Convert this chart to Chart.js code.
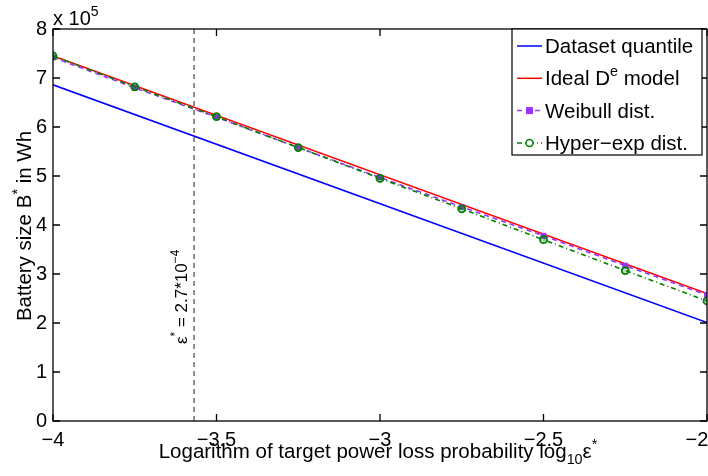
<!DOCTYPE html>
<html>
<head>
<meta charset="utf-8">
<script src="https://cdn.jsdelivr.net/npm/chart.js@4.4.1/dist/chart.umd.min.js"></script>
<style>
  body { margin: 0; background: #fff; }
  canvas { display: block; }
</style>
</head>
<body>
<canvas id="myChart" width="708" height="476"></canvas>
<script>
// battery sizes are in units of 1e5 Wh
const logEps = [-4, -3.75, -3.5, -3.25, -3, -2.75, -2.5, -2.25, -2];
const lineEnds = [-4, -2];
const quantile = [6.86, 2.01];
const idealModel = [7.45, 2.6];
const weibull = [7.42, 6.8, 6.2, 5.58, 4.97, 4.37, 3.78, 3.17, 2.57];
const hyperExp = [7.45, 6.82, 6.21, 5.58, 4.95, 4.33, 3.7, 3.07, 2.45];
const xTicks = [-4, -3.5, -3, -2.5, -2];
const yTicks = [0, 1, 2, 3, 4, 5, 6, 7, 8];
const epsStar = Math.log10(2.7e-4);

const FONT = '"Liberation Sans", Arial, Helvetica, sans-serif';
const SIZE = 20;
const TITLE = 20.5;
const chart = document.getElementById("myChart");

Chart.defaults.font.family = FONT;
Chart.defaults.font.size = SIZE;
Chart.defaults.color = "#000";

// draws text made of parts, some of them super/subscript
function richText(ctx, parts, x, y, size, measureOnly) {
  let cx = x;
  for (const p of parts) {
    let fs = size, dy = 0;
    if (p.sup) { fs = size * 0.7; dy = -size * 0.45; }
    if (p.sub) { fs = size * 0.7; dy = size * 0.3; }
    ctx.font = fs + "px " + FONT;
    if (!measureOnly) ctx.fillText(p.t, cx, y + dy);
    cx += ctx.measureText(p.t).width;
  }
  return cx - x;
}

const legendItems = [
  { text: [{ t: "Dataset quantile" }], color: "#0000ff", dash: [], marker: null },
  { text: [{ t: "Ideal D" }, { t: "e", sup: true }, { t: " model" }], color: "#ff0000", dash: [], marker: null },
  { text: [{ t: "Weibull dist." }], color: "#9933ff", dash: [5, 4], marker: "rect" },
  { text: [{ t: "Hyper\u2212exp dist." }], color: "#008000", dash: [5, 3, 1, 3], marker: "circle" },
];

const decorations = {
  id: "decorations",
  beforeDatasetsDraw(c) {
    const { ctx, chartArea: a, scales: { x } } = c;
    const px = x.getPixelForValue(epsStar);
    ctx.save();
    ctx.strokeStyle = "#222";
    ctx.lineWidth = 1;
    ctx.setLineDash([5, 4]);
    ctx.beginPath();
    ctx.moveTo(px, a.top);
    ctx.lineTo(px, a.bottom);
    ctx.stroke();
    ctx.restore();
  },
  afterDraw(c) {
    const { ctx, chartArea: a, scales: { x, y } } = c;
    ctx.save();
    // box and inward ticks
    ctx.strokeStyle = "#000";
    ctx.lineWidth = 1.3;
    ctx.strokeRect(a.left, a.top, a.right - a.left, a.bottom - a.top);
    ctx.beginPath();
    xTicks.forEach((v) => {
      const px = x.getPixelForValue(v);
      ctx.moveTo(px, a.bottom); ctx.lineTo(px, a.bottom - 7);
      ctx.moveTo(px, a.top); ctx.lineTo(px, a.top + 7);
    });
    yTicks.forEach((v) => {
      const py = y.getPixelForValue(v);
      ctx.moveTo(a.left, py); ctx.lineTo(a.left + 7, py);
      ctx.moveTo(a.right, py); ctx.lineTo(a.right - 7, py);
    });
    ctx.stroke();

    ctx.fillStyle = "#000";
    ctx.textBaseline = "alphabetic";
    ctx.textAlign = "left";

    // exponent above y axis
    richText(ctx, [{ t: "x 10" }, { t: "5", sup: true }], a.left, 25, SIZE);

    // x title
    const xt = [{ t: "Logarithm of target power loss probability log" }, { t: "10", sub: true }, { t: "\u03b5" }, { t: "*", sup: true }];
    const xw = richText(ctx, xt, 0, 0, TITLE, true);
    richText(ctx, xt, 378 - xw / 2, 458, TITLE);

    // y title
    const yt = [{ t: "Battery size B" }, { t: "*", sup: true }, { t: " in Wh" }];
    const yw = richText(ctx, yt, 0, 0, TITLE, true);
    ctx.save();
    ctx.translate(31, 226);
    ctx.rotate(-Math.PI / 2);
    richText(ctx, yt, -yw / 2, 0, TITLE);
    ctx.restore();

    // annotation of the dashed line
    ctx.save();
    ctx.translate(x.getPixelForValue(epsStar) - 7, 344);
    ctx.rotate(-Math.PI / 2);
    richText(ctx, [{ t: "\u03b5" }, { t: "*", sup: true }, { t: " = 2.7*10" }, { t: "\u22124", sup: true }], 0, 0, 17);
    ctx.restore();

    // legend box
    const lx = 512, ly = 29, lw = 190, lh = 126;
    ctx.fillStyle = "#fff";
    ctx.fillRect(lx, ly, lw, lh);
    ctx.strokeStyle = "#000";
    ctx.lineWidth = 1.2;
    ctx.strokeRect(lx, ly, lw, lh);
    legendItems.forEach((it, i) => {
      const ry = 46 + i * 32.3;
      ctx.strokeStyle = it.color;
      ctx.lineWidth = 1.5;
      ctx.setLineDash(it.dash);
      ctx.beginPath();
      ctx.moveTo(517, ry); ctx.lineTo(542, ry);
      ctx.stroke();
      ctx.setLineDash([]);
      if (it.marker === "rect") {
        ctx.fillStyle = it.color;
        ctx.fillRect(526, ry - 3.5, 7, 7);
      } else if (it.marker === "circle") {
        ctx.fillStyle = "#fff";
        ctx.beginPath();
        ctx.arc(529.5, ry, 3.5, 0, Math.PI * 2);
        ctx.fill();
        ctx.lineWidth = 1.5;
        ctx.stroke();
      }
      ctx.fillStyle = "#000";
      richText(ctx, it.text, 545, ry + 7, TITLE);
    });
    ctx.restore();
  },
};

const toXY = (xs, ys) => xs.map((v, i) => ({ x: v, y: ys[i] }));

new Chart(chart, {
  type: "line",
  data: {
    datasets: [
      {
        label: "Dataset quantile",
        data: toXY(lineEnds, quantile),
        borderColor: "#0000ff",
        borderWidth: 1.6,
        pointRadius: 0,
        order: 4,
      },
      {
        label: "Ideal De model",
        data: toXY(lineEnds, idealModel),
        borderColor: "#ff0000",
        borderWidth: 1.6,
        pointRadius: 0,
        order: 3,
      },
      {
        label: "Weibull dist.",
        data: toXY(logEps, weibull),
        borderColor: "#9933ff",
        backgroundColor: "#9933ff",
        borderWidth: 1.6,
        borderDash: [5, 4],
        pointStyle: "rect",
        pointRadius: 3.5,
        pointBorderWidth: 1,
        order: 2,
      },
      {
        label: "Hyper-exp dist.",
        data: toXY(logEps, hyperExp),
        borderColor: "#008000",
        backgroundColor: "rgba(0,128,0,0.25)",
        borderWidth: 1.6,
        borderDash: [5, 3, 1, 3],
        pointStyle: "circle",
        pointRadius: 3.5,
        pointBorderWidth: 1.8,
        order: 1,
      },
    ],
  },
  options: {
    responsive: false,
    animation: false,
    layout: { autoPadding: false, padding: { top: 29, right: 1, left: 0, bottom: 0 } },
    plugins: { legend: { display: false }, tooltip: { enabled: false } },
    scales: {
      x: {
        type: "linear",
        min: -4,
        max: -2,
        grid: { display: false, drawTicks: false },
        border: { display: false },
        afterBuildTicks: (s) => { s.ticks = xTicks.map((v) => ({ value: v })); },
        ticks: {
          padding: 7,
          maxRotation: 0,
          // last label is pushed left so it stays on the canvas
          callback: (v) => String(v).replace("-", "\u2212") + (v === -2 ? "\u2002\u2002" : ""),
        },
        afterFit: (s) => {
          s.height = 55;
          s.paddingLeft = 0;
          s.paddingRight = 0;
        },
      },
      y: {
        min: 0,
        max: 8,
        grid: { display: false, drawTicks: false },
        border: { display: false },
        afterBuildTicks: (s) => { s.ticks = yTicks.map((v) => ({ value: v })); },
        ticks: { padding: 6 },
        afterFit: (s) => {
          s.width = 53;
          s.paddingTop = 0;
          s.paddingBottom = 0;
        },
      },
    },
  },
  plugins: [decorations],
});
</script>
</body>
</html>
